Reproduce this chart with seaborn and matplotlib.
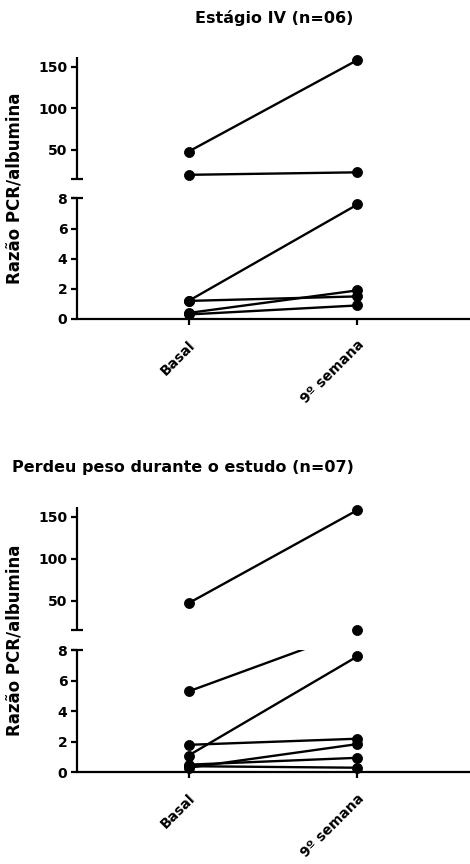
import numpy as np
import pandas as pd
import matplotlib
matplotlib.use("Agg")
import matplotlib.pyplot as plt
import matplotlib.transforms as mtransforms
import seaborn as sns

# ---------------- data ----------------
categories = ["Basal", "9º semana"]

p1_title = "Estágio IV (n=06)"
p1_basal = [47.5, 19.5, 1.2, 1.2, 0.4, 0.3]
p1_week9 = [158.0, 22.5, 7.6, 1.5, 1.9, 0.9]

p2_title = "Perdeu peso durante o estudo (n=07)"
p2_basal = [47.0, 5.3, 1.1, 1.8, 0.3, 0.5, 0.4]
p2_week9 = [158.0, 15.5, 7.6, 2.2, 1.85, 0.95, 0.3]

y_label = "Razão PCR/albumina"
lower_ticks = [0, 2, 4, 6, 8]
upper_ticks = [50, 100, 150]

# broken-axis segments
LOW_MAX = 8.0
UP_MIN = 15.0
UP_MAX = 162.0
GAP = 1.32           # gap size in lower-segment units
K_UP = 0.055         # upper-segment compression factor

xp = np.array([-1000.0, 0.0, LOW_MAX, UP_MIN, UP_MAX, 5000.0])
fp = np.array([-1000.0, 0.0, LOW_MAX, LOW_MAX + GAP,
               LOW_MAX + GAP + (UP_MAX - UP_MIN) * K_UP,
               LOW_MAX + GAP + (5000.0 - UP_MIN) * K_UP])


def fwd(v):
    return np.interp(np.asarray(v, dtype=float), xp, fp)


def inv(v):
    return np.interp(np.asarray(v, dtype=float), fp, xp)


sns.set_theme(style="ticks")
plt.rcParams["font.family"] = ["DejaVu Sans"]
plt.rcParams["font.weight"] = "bold"

W, H = 470, 864
fig = plt.figure(figsize=(W / 100, H / 100), dpi=100)


def make_panel(ax, basal, week9, title, title_xy, title_ha):
    n = len(basal)
    df = pd.DataFrame({
        "subject": list(range(n)) * 2,
        "tempo": [categories[0]] * n + [categories[1]] * n,
        "valor": list(basal) + list(week9),
    })
    sns.lineplot(data=df, x="tempo", y="valor", units="subject",
                 estimator=None, sort=False, color="black", lw=1.7,
                 ax=ax, legend=False, zorder=2)
    sns.scatterplot(data=df, x="tempo", y="valor", color="black",
                    edgecolor="black", s=52, ax=ax, legend=False,
                    zorder=4, clip_on=False)

    ax.set_yscale("function", functions=(fwd, inv))
    ax.set_ylim(0, UP_MAX)
    ax.set_xlim(-0.66, 1.66)

    # hide the gap
    ax.axhspan(LOW_MAX, UP_MIN, color="white", zorder=3, lw=0)

    for s in ["top", "right", "left"]:
        ax.spines[s].set_visible(False)
    ax.spines["bottom"].set_linewidth(1.6)
    ax.spines["bottom"].set_color("black")

    trans = mtransforms.blended_transform_factory(ax.transAxes, ax.transData)
    ax.plot([0, 0], [0, LOW_MAX], transform=trans, color="black",
            lw=1.6, clip_on=False, zorder=5, solid_capstyle="butt")
    ax.plot([0, 0], [UP_MIN, UP_MAX], transform=trans, color="black",
            lw=1.6, clip_on=False, zorder=5, solid_capstyle="butt")
    for yb in (LOW_MAX, UP_MIN):
        ax.plot([-0.016, 0.016], [yb, yb], transform=trans, color="black",
                lw=1.6, clip_on=False, zorder=5, solid_capstyle="butt")

    ax.set_yticks(lower_ticks + upper_ticks)
    ax.set_yticklabels([str(t) for t in lower_ticks + upper_ticks])
    ax.yaxis.set_minor_locator(matplotlib.ticker.NullLocator())
    ax.tick_params(axis="y", length=4.5, width=1.6, color="black",
                   labelsize=10, pad=2.5, labelcolor="black")
    ax.tick_params(axis="x", length=4.5, width=1.6, color="black",
                   labelsize=10, pad=9, labelcolor="black")
    for lab in ax.get_yticklabels():
        lab.set_fontweight("bold")
    ax.set_xticks([0, 1])
    ax.set_xticklabels(categories, rotation=45, ha="right",
                       rotation_mode="anchor", fontweight="bold")
    ax.set_xlabel("")
    ax.set_ylabel("")

    fig.text(title_xy[0], title_xy[1], title, ha=title_ha, va="center",
             fontsize=11.5, fontweight="bold", color="black")


def fx(px):
    return px / W


def fy(py):
    return 1 - py / H


ax1 = fig.add_axes([fx(77), fy(319), fx(469) - fx(77), fy(56.7) - fy(319)])
make_panel(ax1, p1_basal, p1_week9, p1_title, (fx(274), fy(18)), "center")
fig.text(fx(15), fy(188), y_label, rotation=90, ha="center", va="center",
         fontsize=12, fontweight="bold", color="black")

ax2 = fig.add_axes([fx(77), fy(772.3), fx(469) - fx(77), fy(506.7) - fy(772.3)])
make_panel(ax2, p2_basal, p2_week9, p2_title, (fx(12), fy(468)), "left")
fig.text(fx(15), fy(640), y_label, rotation=90, ha="center", va="center",
         fontsize=12, fontweight="bold", color="black")

fig.savefig("out.png", dpi=100, facecolor="white")
